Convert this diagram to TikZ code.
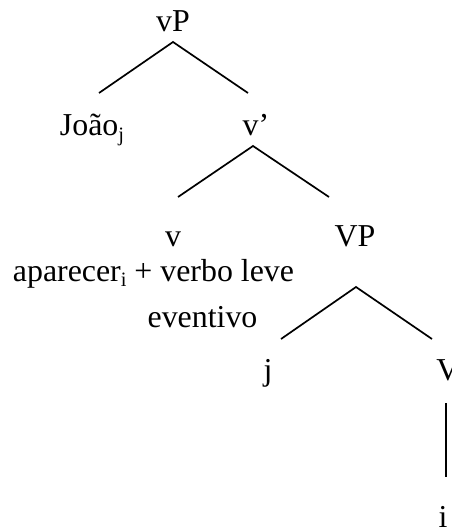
\documentclass[tikz,border=0pt]{standalone}
\usepackage{fontspec}
\setmainfont{Liberation Serif}
\newcommand{\subs}[1]{\raisebox{-0.16em}{\fontsize{20.5}{21}\selectfont #1}}
\begin{document}
\begin{tikzpicture}[x=1bp,y=-1bp,
  lbl/.style={anchor=base,inner sep=0pt,font=\fontsize{32}{38}\selectfont},
  edge/.style={line width=1.7bp}]
\useasboundingbox (0,0) rectangle (452,532);
\clip (0,0) rectangle (452,532);
% labels
\node[lbl] (vP) at (173,32) {vP};
\node[lbl] (joao) at (92,136) {João\subs{j}};
\node[lbl] (vbar) at (256,136) {v’};
\node[lbl] (v) at (173,246) {v};
\node[lbl] (VP) at (355,246) {VP};
\node[lbl] (aparecer) at (153.5,281) {aparecer\subs{i} + verbo leve};
\node[lbl] (eventivo) at (202.5,327) {eventivo};
\node[lbl] (j) at (268,380) {j};
\node[lbl] (V) at (448,380) {V};
\node[lbl] (i) at (443,527) {i};
% branch points
\coordinate (vPb) at (173,42);
\coordinate (joaoT) at (99,93);
\coordinate (vbarT) at (248,93);
\coordinate (vbarB) at (253,146);
\coordinate (vT) at (178,197);
\coordinate (VPT) at (329,197);
\coordinate (VPB) at (356,287);
\coordinate (jT) at (281,339);
\coordinate (VT) at (432,339);
\coordinate (VB) at (446,403);
\coordinate (iT) at (446,477);
% connectors
\draw[edge] (joaoT) -- (vPb) -- (vbarT);
\draw[edge] (vT) -- (vbarB) -- (VPT);
\draw[edge] (jT) -- (VPB) -- (VT);
\draw[edge] (VB) -- (iT);
\end{tikzpicture}
\end{document}
